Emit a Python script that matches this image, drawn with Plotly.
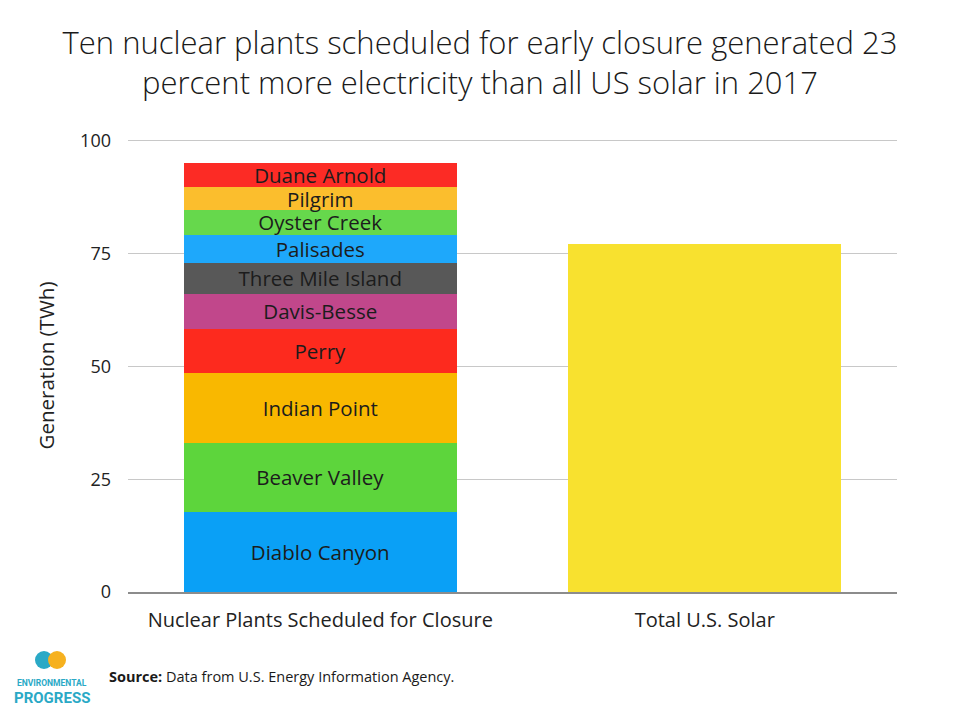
import plotly.graph_objects as go

# ---------------------------------------------------------------------------
# Data (TWh, 2017)
# ---------------------------------------------------------------------------
CATEGORIES = ["Nuclear Plants Scheduled for Closure", "Total U.S. Solar"]

PLANTS = [
    "Diablo Canyon",
    "Beaver Valley",
    "Indian Point",
    "Perry",
    "Davis-Besse",
    "Three Mile Island",
    "Palisades",
    "Oyster Creek",
    "Pilgrim",
    "Duane Arnold",
]
PLANT_TWH = [17.7, 15.4, 15.4, 9.9, 7.7, 6.8, 6.3, 5.4, 5.1, 5.3]
PLANT_COLORS = [
    "#0aa0f6",
    "#5dd53c",
    "#f9b800",
    "#fd2a1e",
    "#c1478b",
    "#585858",
    "#1ea8fb",
    "#66d84c",
    "#fbbe2d",
    "#fc2b25",
]

SOLAR_TWH = 77.1
SOLAR_COLOR = "#f8e12f"

Y_TICKS = [0, 25, 50, 75, 100]

FONT = "Open Sans"
TEAL = "#2aa9c6"
ORANGE = "#f6b11f"

# page offset of the plot div (body margin) and plot area in page pixels
OFF = 8
PX_L, PX_R, PX_T, PX_B = 128, 897, 139, 592


def px_x(x):
    return (x - PX_L) / (PX_R - PX_L)


def px_y(y):
    return (PX_B - y) / (PX_B - PX_T)


fig = go.Figure()

for name, val, col in zip(PLANTS, PLANT_TWH, PLANT_COLORS):
    fig.add_trace(
        go.Bar(
            x=[CATEGORIES[0]],
            y=[val],
            name=name,
            text=[name],
            textposition="inside",
            insidetextanchor="middle",
            constraintext="none",
            textangle=0,
            textfont=dict(family=FONT, size=20.5, color="#1c1c1c"),
            marker=dict(color=col, line=dict(width=0)),
            width=0.71,
            hoverinfo="name+y",
        )
    )

fig.add_trace(
    go.Bar(
        x=[CATEGORIES[1]],
        y=[SOLAR_TWH],
        name="Solar",
        marker=dict(color=SOLAR_COLOR, line=dict(width=0)),
        width=0.71,
    )
)

fig.update_layout(
    barmode="stack",
    width=960,
    height=720,
    showlegend=False,
    paper_bgcolor="white",
    plot_bgcolor="white",
    margin=dict(
        l=PX_L - OFF, r=960 - PX_R + OFF, t=PX_T - OFF, b=720 - PX_B + OFF
    ),
    font=dict(family=FONT, color="#222222"),
    title=dict(
        text="Ten nuclear plants scheduled for early closure generated 23<br>"
        "percent more electricity than all US solar in 2017",
        x=(480 - OFF) / 960,
        xref="container",
        xanchor="center",
        y=1 - (54 - OFF) / 720,
        yref="container",
        yanchor="middle",
        font=dict(family=FONT, size=31, color="#1a1a1a", weight=300),
    ),
    xaxis=dict(
        showgrid=False,
        showline=True,
        linecolor="#8c8c8c",
        linewidth=1.5,
        tickfont=dict(family=FONT, size=20, color="#222222"),
        ticklabelstandoff=9,
        ticks="",
    ),
    yaxis=dict(
        range=[0, 100.4],
        tickvals=Y_TICKS,
        showgrid=True,
        gridcolor="#c8c8c8",
        gridwidth=1,
        zeroline=False,
        showline=False,
        tickfont=dict(family=FONT, size=18, color="#222222"),
        ticklabelstandoff=16,
        title=dict(
            text="Generation (TWh)",
            font=dict(family=FONT, size=20.5, color="#222222"),
            standoff=19,
        ),
    ),
)

# source note
fig.add_annotation(
    text="<b>Source:</b> Data from U.S. Energy Information Agency.",
    xref="paper",
    yref="paper",
    x=px_x(107),
    y=px_y(676),
    xanchor="left",
    yanchor="middle",
    showarrow=False,
    font=dict(family=FONT, size=14.5, color="#1a1a1a"),
)

# Environmental Progress logo
fig.add_shape(
    type="circle",
    xref="paper",
    yref="paper",
    x0=px_x(35),
    x1=px_x(53),
    y0=px_y(669),
    y1=px_y(651),
    fillcolor=TEAL,
    line=dict(width=0),
)
fig.add_shape(
    type="circle",
    xref="paper",
    yref="paper",
    x0=px_x(48),
    x1=px_x(66),
    y0=px_y(669),
    y1=px_y(651),
    fillcolor=ORANGE,
    line=dict(width=0),
)
fig.add_annotation(
    text="<b>ENVIRONMENTAL</b>",
    xref="paper",
    yref="paper",
    x=px_x(52),
    y=px_y(683),
    xanchor="center",
    yanchor="middle",
    showarrow=False,
    font=dict(family="Liberation Sans Narrow, Roboto", size=8.5, color=TEAL),
)
fig.add_annotation(
    text="<b>PROGRESS</b>",
    xref="paper",
    yref="paper",
    x=px_x(52),
    y=px_y(698),
    xanchor="center",
    yanchor="middle",
    showarrow=False,
    font=dict(family="Liberation Sans Narrow, Roboto", size=15, color=TEAL),
)

fig.write_html("out.html")
